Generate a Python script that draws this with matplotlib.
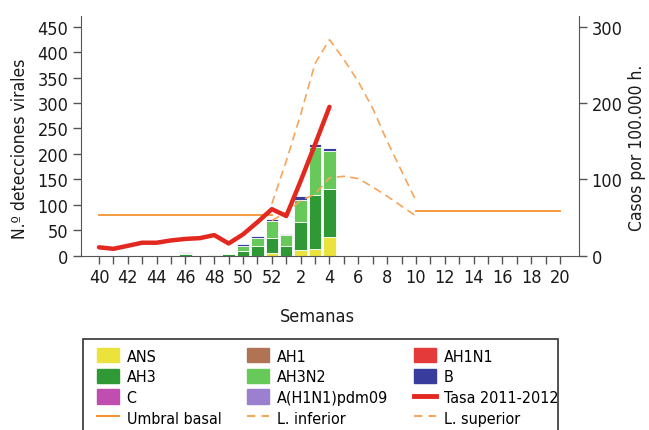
import numpy as np
import matplotlib
matplotlib.use("Agg")
import matplotlib.pyplot as plt
from matplotlib.patches import Patch, Rectangle
from matplotlib.lines import Line2D

plt.rcParams['font.family'] = ['Liberation Sans Narrow', 'DejaVu Sans Condensed', 'DejaVu Sans']
plt.rcParams['font.stretch'] = 'condensed'

# semanas epidemiologicas (temporada 2011-2012)
semanas = list(range(40, 53)) + list(range(1, 21))
etiquetas = [str(s) if i % 2 == 0 else "" for i, s in enumerate(semanas)]

# detecciones virales, semanas 40 a 4
ans   = [0, 0, 0, 0, 0, 0, 0, 0, 0, 0, 0, 0, 5, 0, 11, 14, 37]
ah3   = [0, 0, 0, 0, 0, 0, 3, 0, 2, 3, 10, 20, 29, 19, 55, 105, 94]
ah3n2 = [0, 0, 0, 0, 0, 0, 3, 0, 2, 2, 10, 15, 35, 21, 44, 95, 74]
b     = [0, 0, 0, 0, 0, 0, 2, 0, 0, 0, 3, 4, 4, 3, 8, 6, 6]

# tasa por 100.000 h., semanas 40 a 4
tasa = [11, 9, 13, 17, 17, 20, 22, 23, 27, 16, 28, 44, 61, 52, 98, 146, 195]

# umbral basal: semanas 40-52 y 10-20
umbral_1 = [53, 53, 53, 53, 53, 53, 53, 53, 53, 53, 53, 53, 53]
umbral_2 = [59, 59, 59, 59, 59, 59, 59, 59, 59, 59, 59]

# limites, semanas 52 a 10
inferior = [46, 57, 72, 81, 102, 104, 101, 90, 78, 65, 52]
superior = [68, 124, 185, 252, 283, 257, 228, 193, 150, 111, 72]

x = np.arange(len(semanas))
xb = x[:len(ans)]

c_ans = '#ebe23c'
c_ah1 = '#b07455'
c_ah1n1 = '#e53a3a'
c_ah3 = '#2f9a35'
c_ah3n2 = '#66c95a'
c_b = '#383c9c'
c_c = '#c04db0'
c_pdm = '#9b80cf'
c_tasa = '#e2281f'
c_umbral = '#f59233'
c_lim = '#f7a55c'
gris = '#555555'

fig = plt.figure(figsize=(6.49, 4.31), dpi=100)
ax = fig.add_axes([81/649, 1-256.7/431, 498/649, 239.7/431])
ax2 = ax.twinx()

abajo = np.zeros(len(ans))
for vals, col in [(ans, c_ans), (ah3, c_ah3), (ah3n2, c_ah3n2), (b, c_b)]:
    ax.bar(xb, vals, width=0.86, bottom=abajo, color=col, edgecolor='white', linewidth=0.6)
    abajo += np.array(vals)

ax2.plot(x[:13], umbral_1, color=c_umbral, lw=1.3)
ax2.plot(x[22:], umbral_2, color=c_umbral, lw=1.3)
ax2.plot(x[12:23], inferior, color=c_lim, lw=1.2, dashes=(5, 3))
ax2.plot(x[12:23], superior, color=c_lim, lw=1.2, dashes=(5, 3))
ax2.plot(xb, tasa, color=c_tasa, lw=3.2, solid_capstyle='round', solid_joinstyle='round')

ax.set_xlim(-1.25, 33.32)
ax.set_ylim(0, 471)
ax2.set_ylim(0, 314)
ax.set_yticks(range(0, 451, 50))
ax2.set_yticks([0, 100, 200, 300])
ax.set_xticks(x)
ax.set_xticklabels(etiquetas)

for a in (ax, ax2):
    a.spines['top'].set_visible(False)
    a.tick_params(labelsize=13, colors=gris, labelcolor='#1a1a1a', width=1, length=6, pad=3)
ax.spines['right'].set_visible(False)
ax2.spines['left'].set_visible(False)
ax2.spines['bottom'].set_visible(False)
ax.spines['left'].set_color(gris)
ax.spines['bottom'].set_color(gris)
ax2.spines['right'].set_color(gris)

ax.set_xlabel("Semanas", fontsize=13, color='#1a1a1a')
ax.xaxis.set_label_coords(0.474, -0.215)
fig.text(20/649, 1-149/431, "N.º detecciones virales", rotation=90, ha='center', va='center', fontsize=12.5, color='#1a1a1a')
fig.text(637/649, 1-148/431, "Casos por 100.000 h.", rotation=90, ha='center', va='center', fontsize=12.5, color='#1a1a1a')

# leyenda
fig.add_artist(Rectangle((83/649, -20/431), 475/649, 111/431, transform=fig.transFigure,
                         fill=False, edgecolor='#333333', lw=1.2, clip_on=False))

col1 = [Patch(color=c_ans, label='ANS'), Patch(color=c_ah3, label='AH3'),
        Patch(color=c_c, label='C'), Line2D([], [], color=c_umbral, lw=1.5, label='Umbral basal')]
col2 = [Patch(color=c_ah1, label='AH1'), Patch(color=c_ah3n2, label='AH3N2'),
        Patch(color=c_pdm, label='A(H1N1)pdm09'), Line2D([], [], color=c_lim, lw=1.5, dashes=(4, 3), label='L. inferior')]
col3 = [Patch(color=c_ah1n1, label='AH1N1'), Patch(color=c_b, label='B'),
        Line2D([], [], color=c_tasa, lw=3.5, label='Tasa 2011-2012'), Line2D([], [], color=c_lim, lw=1.5, dashes=(4, 3), label='L. superior')]

for hs, xx in [(col1, 97), (col2, 247), (col3, 414)]:
    fig.legend(handles=hs, loc='upper left', bbox_to_anchor=(xx/649, 1-349/431), frameon=False,
               fontsize=11.5, borderpad=0, borderaxespad=0, handlelength=1.4, handleheight=1.0,
               handletextpad=0.45, labelspacing=0.32)

fig.savefig('out.png', dpi=100)
